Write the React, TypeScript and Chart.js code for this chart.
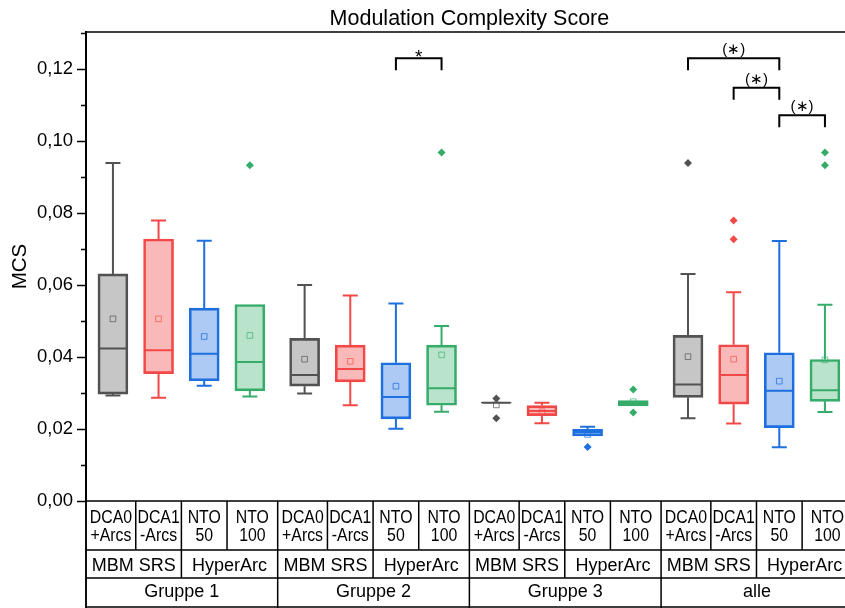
import React, { useEffect, useRef } from 'react';
import { Chart, registerables } from 'chart.js';

Chart.register(...registerables);

// ---- data -----------------------------------------------------------------
const groupLabels = ['Gruppe 1', 'Gruppe 2', 'Gruppe 3', 'alle'];
const methodLabels = [['DCA0', '+Arcs'], ['DCA1', '-Arcs'], ['NTO', '50'], ['NTO', '100']];
const systemLabels = ['MBM SRS', 'HyperArc'];
const chartTitle = 'Modulation Complexity Score';
const yAxisTitle = 'MCS';

// rows: DCA0 +Arcs, DCA1 -Arcs, NTO 50, NTO 100 ; columns: Gruppe 1, 2, 3, alle
const whiskerLow = [
  [0.0293, 0.0299, 0.0273, 0.0230],
  [0.0287, 0.0266, 0.0216, 0.0215],
  [0.0320, 0.0201, 0.0181, 0.0149],
  [0.0290, 0.0248, 0.0264, 0.0247],
];
const quartile1 = [
  [0.0297, 0.0319, 0.0272, 0.0288],
  [0.0354, 0.0331, 0.0237, 0.0269],
  [0.0334, 0.0228, 0.0181, 0.0204],
  [0.0306, 0.0266, 0.0264, 0.0277],
];
const medians = [
  [0.0424, 0.0350, 0.0273, 0.0324],
  [0.0419, 0.0367, 0.0250, 0.0350],
  [0.0409, 0.0289, 0.0192, 0.0306],
  [0.0386, 0.0313, 0.0272, 0.0308],
];
const quartile3 = [
  [0.0631, 0.0452, 0.0274, 0.0460],
  [0.0728, 0.0433, 0.0265, 0.0434],
  [0.0536, 0.0384, 0.0199, 0.0412],
  [0.0546, 0.0433, 0.0279, 0.0393],
];
const whiskerHigh = [
  [0.0939, 0.0600, 0.0273, 0.0631],
  [0.0779, 0.0571, 0.0273, 0.0580],
  [0.0723, 0.0549, 0.0206, 0.0722],
  [0.0546, 0.0486, 0.0279, 0.0545],
];
const means = [
  [0.0506, 0.0394, 0.0267, 0.0401],
  [0.0506, 0.0388, 0.0248, 0.0394],
  [0.0457, 0.0319, 0.0185, 0.0333],
  [0.0460, 0.0406, 0.0276, 0.0392],
];
const outliers: number[][][] = [
  [[], [], [0.0285, 0.0230], [0.0939]],
  [[], [], [], [0.0779, 0.0727]],
  [[], [], [0.0150], []],
  [[0.0933], [0.0968], [0.0310, 0.0246], [0.0968, 0.0933]],
];

// significance brackets: group, from method, to method
const sigGroups = [1, 3, 3, 3];
const sigFrom = [2, 0, 1, 2];
const sigTo = [3, 2, 2, 3];
const sigLevels = [0.1230, 0.1230, 0.1148, 0.1072];
const sigLabels = ['*', '(\u2217)', '(\u2217)', '(\u2217)'];

// ---- styling / layout -------------------------------------------------------
const FONT = "'Liberation Sans', Arial, Helvetica, sans-serif";
const COLORS = ['#525252', '#F24848', '#1E6FDF', '#36AC6A'];
const FILLS = ['rgba(82,82,82,0.33)', 'rgba(242,72,72,0.38)', 'rgba(30,111,223,0.37)', 'rgba(54,172,106,0.34)'];
const MEAN_COLORS = ['rgba(82,82,82,0.7)', 'rgba(242,72,72,0.65)', 'rgba(30,111,223,0.75)', 'rgba(54,172,106,0.65)'];

const GROUP_STRIDE = 4.2;
const EDGE_PAD = 0.59;
const X_MIN = -EDGE_PAD;
const X_MAX = 15.93;
const BOX_WIDTH = 30;
const CAP_HALF = 7.5;
const slot = (g: number, m: number) => g * GROUP_STRIDE + m;

const ROW1 = 49;
const ROW2 = 77;
const ROW3 = 106;

const decorPlugin = {
  id: 'boxDecor',
  afterDatasetDraw(chart: any, args: any) {
    const m = args.index;
    if (m >= methodLabels.length) return;
    const { ctx } = chart;
    const xs = chart.scales.x;
    const ys = chart.scales.y;
    ctx.save();
    ctx.strokeStyle = COLORS[m];
    ctx.lineWidth = 2;
    groupLabels.forEach((_, g) => {
      const x = xs.getPixelForValue(slot(g, m));
      const yLo = ys.getPixelForValue(whiskerLow[m][g]);
      const yQ1 = ys.getPixelForValue(quartile1[m][g]);
      const yMed = ys.getPixelForValue(medians[m][g]);
      const yQ3 = ys.getPixelForValue(quartile3[m][g]);
      const yHi = ys.getPixelForValue(whiskerHigh[m][g]);
      ctx.beginPath();
      if (yHi < yQ3 - 0.5) {
        ctx.moveTo(x, yQ3);
        ctx.lineTo(x, yHi);
        ctx.moveTo(x - CAP_HALF, yHi);
        ctx.lineTo(x + CAP_HALF, yHi);
      }
      if (yLo > yQ1 + 0.5) {
        ctx.moveTo(x, yQ1);
        ctx.lineTo(x, yLo);
        ctx.moveTo(x - CAP_HALF, yLo);
        ctx.lineTo(x + CAP_HALF, yLo);
      }
      ctx.moveTo(x - BOX_WIDTH / 2 + 1, yMed);
      ctx.lineTo(x + BOX_WIDTH / 2 - 1, yMed);
      ctx.stroke();
    });
    ctx.restore();
  },
  afterDraw(chart: any) {
    const { ctx, chartArea } = chart;
    const xs = chart.scales.x;
    const ys = chart.scales.y;
    const px = (v: number) => xs.getPixelForValue(v);
    const { left, top, bottom } = chartArea;
    const H = chart.height;
    const W = chart.width;
    ctx.save();
    ctx.strokeStyle = '#000';
    ctx.fillStyle = '#000';
    ctx.lineWidth = 1.5;

    // frame: top line and left line running through the label table
    ctx.beginPath();
    ctx.moveTo(left, top);
    ctx.lineTo(W + 10, top);
    ctx.moveTo(left, bottom);
    ctx.lineTo(left, H);
    ctx.stroke();

    // minor ticks
    ctx.beginPath();
    ys.ticks.forEach((t: any) => {
      if (Math.round(t.value * 100) % 2 !== 0) {
        const y = Math.round(ys.getPixelForValue(t.value)) + 0.5;
        ctx.moveTo(left - 5, y);
        ctx.lineTo(left, y);
      }
    });
    ctx.stroke();

    // label table
    const yR1 = bottom + ROW1;
    const yR2 = bottom + ROW2;
    const yR3 = bottom + ROW3;
    const groupEnd = (g: number) => g * GROUP_STRIDE + 4 - EDGE_PAD + 0.2;
    const tableEnd = px(groupEnd(groupLabels.length - 1));
    ctx.beginPath();
    [bottom, yR1, yR2, yR3].forEach((y) => {
      ctx.moveTo(left, y);
      ctx.lineTo(tableEnd, y);
    });
    groupLabels.forEach((_, g) => {
      const base = g * GROUP_STRIDE;
      const gStart = px(base - EDGE_PAD);
      [base + 0.5, base + 1.5, base + 2.5].forEach((e) => {
        const x = px(e);
        ctx.moveTo(x, bottom);
        ctx.lineTo(x, e === base + 1.5 ? yR2 : yR1);
      });
      ctx.moveTo(gStart, bottom);
      ctx.lineTo(gStart, H);
    });
    ctx.moveTo(tableEnd, bottom);
    ctx.lineTo(tableEnd, H);
    ctx.stroke();

    ctx.textAlign = 'center';
    ctx.textBaseline = 'middle';
    const squeeze = 0.88;
    groupLabels.forEach((label, g) => {
      const base = g * GROUP_STRIDE;
      const edges = [base - EDGE_PAD, base + 0.5, base + 1.5, base + 2.5, groupEnd(g)];
      ctx.font = `18px ${FONT}`;
      methodLabels.forEach((lines, m) => {
        const cx = (px(edges[m]) + px(edges[m + 1])) / 2;
        ctx.save();
        ctx.translate(cx, 0);
        ctx.scale(squeeze, 1);
        ctx.fillText(lines[0], 0, bottom + 17);
        ctx.fillText(lines[1], 0, bottom + 35.5);
        ctx.restore();
      });
      ctx.font = `18px ${FONT}`;
      ctx.fillText(systemLabels[0], (px(edges[0]) + px(edges[2])) / 2, bottom + 65);
      ctx.fillText(systemLabels[1], (px(edges[2]) + px(edges[4])) / 2, bottom + 65);
      ctx.fillText(label, (px(edges[0]) + px(edges[4])) / 2, bottom + 91.5);
    });

    // title, centred over the whole table width
    ctx.font = `21.5px ${FONT}`;
    ctx.fillText(chartTitle, (left + tableEnd) / 2, 19.5);

    // significance brackets
    ctx.lineWidth = 2;
    sigGroups.forEach((g, k) => {
      const x1 = px(slot(g, sigFrom[k]));
      const x2 = px(slot(g, sigTo[k]));
      const y = ys.getPixelForValue(sigLevels[k]);
      ctx.beginPath();
      ctx.moveTo(x1, y + 12);
      ctx.lineTo(x1, y);
      ctx.lineTo(x2, y);
      ctx.lineTo(x2, y + 12);
      ctx.stroke();
      const cx = (x1 + x2) / 2;
      ctx.textBaseline = 'alphabetic';
      if (sigLabels[k] === '*') {
        ctx.font = `19px ${FONT}`;
        ctx.fillText(sigLabels[k], cx, y + 4.5);
      } else {
        ctx.font = `15px ${FONT}`;
        ctx.fillText(sigLabels[k], cx, y - 4);
      }
    });
    ctx.restore();
  },
};

export default function App() {
  const ref = useRef<HTMLCanvasElement>(null);

  useEffect(() => {
    const canvas = ref.current;
    if (!canvas) return;
    Chart.defaults.font.family = FONT;
    Chart.defaults.color = '#000';

    const boxSets = methodLabels.map((lines, m) => ({
      type: 'bar' as const,
      label: lines.join(' '),
      data: groupLabels.map((_, g) => ({ x: slot(g, m), y: [quartile1[m][g], quartile3[m][g]] })),
      backgroundColor: FILLS[m],
      borderColor: COLORS[m],
      borderWidth: 2,
      borderSkipped: false,
      barThickness: BOX_WIDTH,
      grouped: false,
      order: 3,
    }));
    const meanSets = methodLabels.map((lines, m) => ({
      type: 'scatter' as const,
      label: lines.join(' ') + ' mean',
      data: groupLabels.map((_, g) => ({ x: slot(g, m), y: means[m][g] })),
      pointStyle: 'rect',
      pointRadius: 4,
      borderWidth: 1,
      borderColor: MEAN_COLORS[m],
      backgroundColor: 'rgba(0,0,0,0)',
      order: 1,
    }));
    const outlierSets = methodLabels.map((lines, m) => ({
      type: 'scatter' as const,
      label: lines.join(' ') + ' outliers',
      data: outliers[m].flatMap((vals, g) => vals.map((v) => ({ x: slot(g, m), y: v }))),
      pointStyle: 'rectRot',
      pointRadius: 4,
      borderWidth: 0,
      backgroundColor: COLORS[m],
      order: 2,
    }));

    const chart = new Chart(canvas, {
      type: 'bar',
      data: { datasets: [...boxSets, ...meanSets, ...outlierSets] as any },
      options: {
        responsive: false,
        animation: false,
        devicePixelRatio: 1,
        events: [],
        layout: { padding: { top: 32, bottom: 107, left: 0, right: 0 } },
        plugins: {
          legend: { display: false },
          tooltip: { enabled: false },
          title: { display: false },
        },
        scales: {
          x: { type: 'linear', display: false, offset: false, min: X_MIN, max: X_MAX },
          y: {
            type: 'linear',
            min: 0,
            max: 0.1303,
            afterFit: (s: any) => {
              s.width = 86;
            },
            ticks: {
              stepSize: 0.01,
              includeBounds: false,
              autoSkip: false,
              padding: 4,
              color: '#000',
              font: { size: 18.5, family: FONT },
              callback: (v: any) => {
                const h = Math.round(Number(v) * 100);
                return h % 2 === 0 ? (h / 100).toFixed(2).replace('.', ',') : '';
              },
            },
            grid: {
              drawOnChartArea: false,
              drawTicks: true,
              tickLength: 9,
              tickWidth: 1.5,
              tickColor: (c: any) =>
                c.tick && Math.round(c.tick.value * 100) % 2 === 0 ? '#000' : 'rgba(0,0,0,0)',
            },
            border: { display: true, color: '#000', width: 2 },
            title: {
              display: true,
              text: yAxisTitle,
              color: '#000',
              font: { size: 20.5, family: FONT },
              padding: { top: 8, bottom: 0 },
            },
          },
        },
      } as any,
      plugins: [decorPlugin],
    });
    return () => chart.destroy();
  }, []);

  return (
    <div style={{ position: 'fixed', left: 0, top: 0, width: 845, height: 608, overflow: 'hidden', background: '#fff' }}>
      <canvas ref={ref} width={845} height={608} style={{ display: 'block' }} />
    </div>
  );
}
